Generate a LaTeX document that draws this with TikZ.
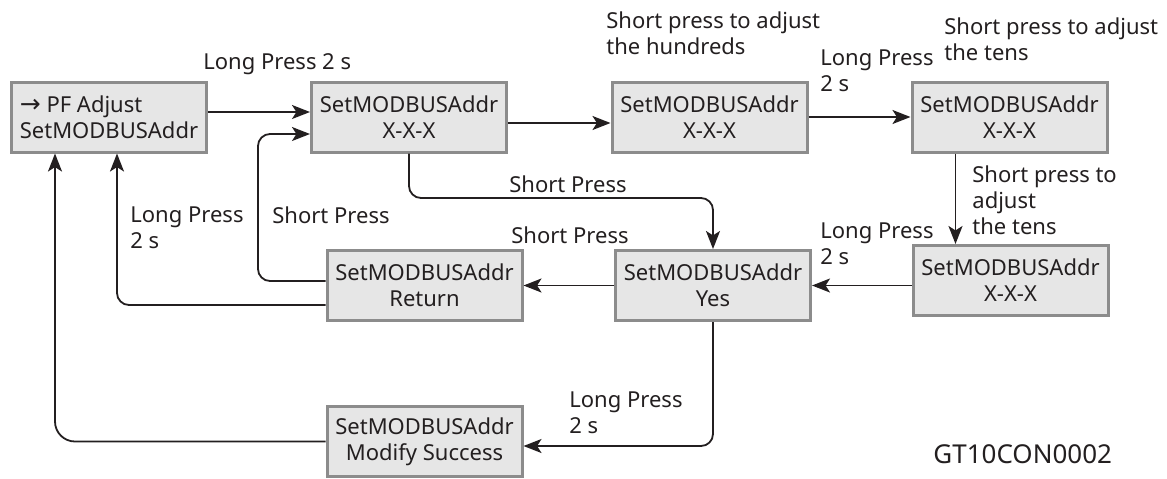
\documentclass[tikz,border=0pt]{standalone}
\usepackage{fontspec}
\setmainfont{Noto Sans}
\newfontfamily\arrowfont{DejaVu Sans}
\usetikzlibrary{arrows.meta}
\definecolor{boxline}{HTML}{8C8C8C}
\definecolor{boxfill}{HTML}{E6E6E6}
\definecolor{ink}{HTML}{231F20}

\begin{document}
\begin{tikzpicture}[x=0.5pt, y=-0.5pt, >={Stealth[length=9pt,width=7pt,inset=2.2pt]},
    every node/.style={font=\fontsize{11}{13}\selectfont, text=ink},
    box/.style={draw=boxline, line width=1.5pt, fill=boxfill, minimum width=97.5pt, minimum height=35pt, align=center},
    lbl/.style={anchor=north west, inner sep=0pt, align=left},
    flow/.style={->, draw=ink, line width=0.9pt, rounded corners=6pt}]
  \useasboundingbox (0,0) rectangle (1167,478);
  % menu screens
  \node[box, align=left] (adj) at (109,117) {{\arrowfont\fontsize{12.5}{13}\selectfont →} PF Adjust\\SetMODBUSAddr};
  \node[box] (addr) at (409,117) {SetMODBUSAddr\\X-X-X};
  \node[box] (hund) at (709.5,117) {SetMODBUSAddr\\X-X-X};
  \node[box] (tens) at (1009.5,117) {SetMODBUSAddr\\X-X-X};
  \node[box] (units) at (1010.5,280.5) {SetMODBUSAddr\\X-X-X};
  \node[box] (yes) at (713,285.5) {SetMODBUSAddr\\Yes};
  \node[box] (ret) at (424.5,285.5) {SetMODBUSAddr\\Return};
  \node[box] (done) at (424.5,441.5) {SetMODBUSAddr\\Modify Success};
  % turning points
  \coordinate (bfturn) at (560,198);
  \coordinate (rbturn) at (258,200);
  \coordinate (tdtop) at ([xshift=-27pt]tens.south);
  % connectors
  \draw[flow] ([yshift=2.5pt]adj.east) -- ([yshift=2.5pt]addr.west);
  \draw[flow] ([yshift=-3pt]addr.east) -- ([yshift=-3pt]hund.west);
  \draw[flow] (hund) -- (tens);
  \draw[flow] (tdtop) -- (tdtop |- units.north);
  \draw[flow] (yes.east -| units.west) -- (yes.east);
  \draw[flow] (yes) -- (ret);
  \draw[flow] (addr.south) |- (bfturn) -| (yes.north);
  \draw[flow] ([yshift=2.25pt]ret.west) -| (rbturn) |- ([yshift=-8.5pt]addr.west);
  \draw[flow] ([yshift=-9.75pt]ret.west) -| ([xshift=4pt]adj.south);
  \draw[flow, rounded corners=10pt] (done.west) -| ([xshift=-27pt]adj.south);
  \draw[flow] (yes.south) |- ([yshift=-2.25pt]done.east);
  % labels
  \node[lbl] (lpab) at (203,53) {Long Press 2 s};
  \node[lbl] (sphund) at (606,11) {Short press to adjust\\the hundreds};
  \node[lbl] (lpcd) at (820,49) {Long Press\\2 s};
  \node[lbl] (sptens) at (944,17) {Short press to adjust\\the tens};
  \node[lbl] (spde) at (972,165) {Short press to\\adjust\\the tens};
  \node[lbl] (lpef) at (820,222) {Long Press\\2 s};
  \node[lbl] (spbf) at (509,175) {Short Press};
  \node[lbl] (spfg) at (511,226) {Short Press};
  \node[lbl] (sprb) at (272,206) {Short Press};
  \node[lbl] (lpra) at (130,206) {Long Press\\2 s};
  \node[lbl] (lpfd) at (569,391) {Long Press\\2 s};
  \node[anchor=base west, inner sep=0pt, font=\fontsize{13}{15}\selectfont] (code) at (933,463) {GT10CON0002};
\end{tikzpicture}
\end{document}
